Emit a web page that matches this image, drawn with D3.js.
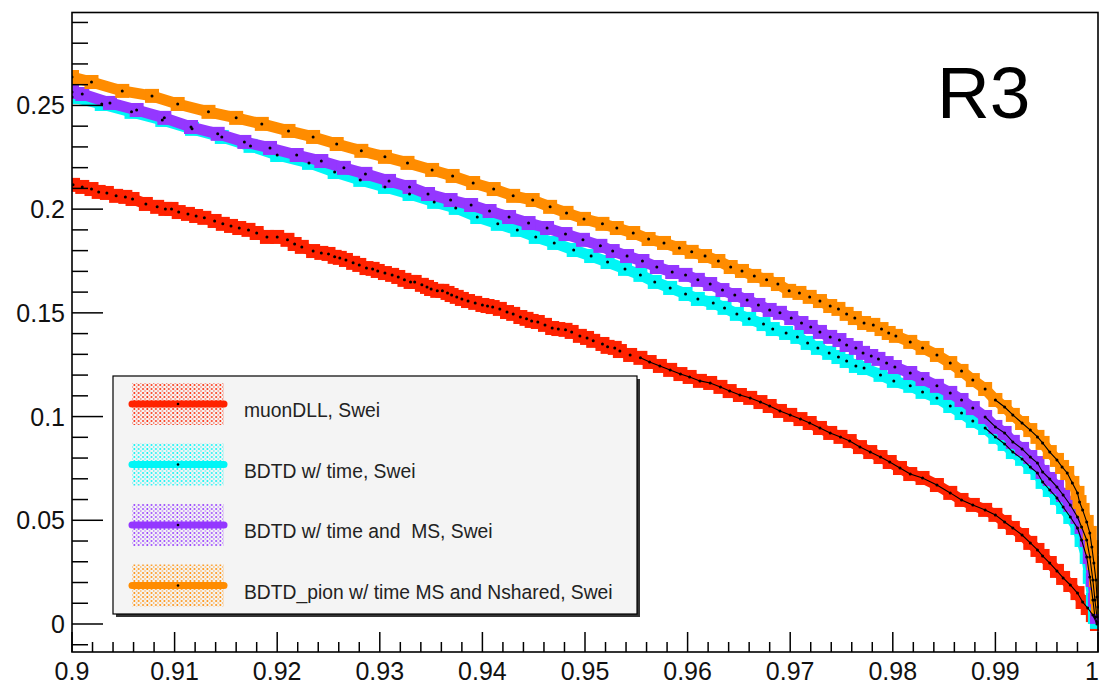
<!DOCTYPE html>
<html>
<head>
<meta charset="utf-8">
<script src="https://cdn.jsdelivr.net/npm/d3@7/dist/d3.min.js"></script>
<style>
  html, body { margin: 0; padding: 0; background: #ffffff; }
  svg { display: block; }
  text { font-family: "Liberation Sans", Arial, Helvetica, sans-serif; white-space: pre; }
</style>
</head>
<body>
<svg id="chart" width="1099" height="685"></svg>
<script>
// ---------------- DATA ----------------
const xTickLabels = ["0.9","0.91","0.92","0.93","0.94","0.95","0.96","0.97","0.98","0.99","1"];
const yTickLabels = ["0","0.05","0.1","0.15","0.2","0.25"];
const seriesNames = ["muonDLL, Swei", "BDTD w/ time, Swei", "BDTD w/ time and  MS, Swei", "BDTD_pion w/ time MS and Nshared, Swei"];
const annotation = "R3";

// muonDLL, Swei  [signal efficiency, background efficiency]
const muonDLL = [
 [0.9001,0.2117],[0.9010,0.2107],[0.9019,0.2097],[0.9026,0.2083],[0.9034,0.2078],[0.9043,0.2064],
 [0.9052,0.2059],[0.9059,0.2049],[0.9072,0.2025],[0.9083,0.2011],[0.9091,0.2001],[0.9097,0.2001],
 [0.9104,0.1986],[0.9113,0.1977],[0.9121,0.1967],[0.9129,0.1958],[0.9139,0.1943],[0.9147,0.1929],
 [0.9155,0.1919],[0.9163,0.1909],[0.9172,0.1900],[0.9180,0.1885],[0.9190,0.1866],[0.9200,0.1866],
 [0.9210,0.1852],[0.9217,0.1832],[0.9224,0.1818],[0.9235,0.1798],[0.9243,0.1789],[0.9250,0.1784],
 [0.9256,0.1770],[0.9261,0.1765],[0.9267,0.1755],[0.9274,0.1741],[0.9280,0.1731],[0.9287,0.1716],
 [0.9293,0.1712],[0.9298,0.1702],[0.9305,0.1692],[0.9312,0.1683],[0.9318,0.1673],[0.9324,0.1659],
 [0.9330,0.1649],[0.9334,0.1649],[0.9341,0.1635],[0.9346,0.1625],[0.9350,0.1615],[0.9356,0.1606],
 [0.9361,0.1606],[0.9366,0.1596],[0.9370,0.1586],[0.9375,0.1577],[0.9380,0.1567],[0.9386,0.1557],
 [0.9393,0.1548],[0.9400,0.1538],[0.9405,0.1533],[0.9410,0.1528],[0.9417,0.1519],[0.9424,0.1504],
 [0.9430,0.1495],[0.9437,0.1480],[0.9443,0.1471],[0.9448,0.1461],[0.9454,0.1456],[0.9461,0.1442],
 [0.9468,0.1427],[0.9474,0.1422],[0.9481,0.1418],[0.9487,0.1408],[0.9495,0.1389],[0.9502,0.1379],
 [0.9508,0.1365],[0.9517,0.1350],[0.9522,0.1336],[0.9529,0.1331],[0.9534,0.1316],[0.9544,0.1297],
 [0.9554,0.1283],[0.9563,0.1263],[0.9573,0.1244],[0.9583,0.1225],[0.9593,0.1205],[0.9602,0.1191],
 [0.9612,0.1172],[0.9622,0.1162],[0.9632,0.1143],[0.9641,0.1123],[0.9651,0.1104],[0.9661,0.1090],
 [0.9671,0.1070],[0.9680,0.1051],[0.9690,0.1027],[0.9700,0.1008],[0.9710,0.0988],[0.9719,0.0969],
 [0.9729,0.0945],[0.9739,0.0921],[0.9749,0.0902],[0.9758,0.0882],[0.9768,0.0853],[0.9778,0.0829],
 [0.9788,0.0805],[0.9797,0.0781],[0.9807,0.0752],[0.9817,0.0723],[0.9829,0.0704],[0.9843,0.0670],
 [0.9856,0.0632],[0.9867,0.0598],[0.9878,0.0574],[0.9890,0.0550],[0.9900,0.0526],[0.9909,0.0492],
 [0.9917,0.0463],[0.9926,0.0429],[0.9934,0.0391],[0.9941,0.0357],[0.9946,0.0328],[0.9953,0.0294],
 [0.9960,0.0256],[0.9966,0.0222],[0.9973,0.0188],[0.9980,0.0149],[0.9985,0.0106],[0.9990,0.0077],
 [0.9995,0.0043],[0.9999,0.0000]
];

// BDTD w/ time, Swei
const bdtdTime = [
 [0.9000,0.2541],[0.9029,0.2507],[0.9058,0.2469],[0.9088,0.2430],[0.9117,0.2387],[0.9146,0.2348],
 [0.9174,0.2305],[0.9200,0.2261],[0.9231,0.2223],[0.9256,0.2179],[0.9281,0.2141],[0.9305,0.2107],
 [0.9329,0.2073],[0.9353,0.2035],[0.9374,0.2006],[0.9395,0.1962],[0.9415,0.1929],[0.9434,0.1900],
 [0.9452,0.1866],[0.9470,0.1837],[0.9489,0.1803],[0.9506,0.1774],[0.9522,0.1745],[0.9539,0.1712],
 [0.9554,0.1683],[0.9568,0.1649],[0.9583,0.1620],[0.9598,0.1591],[0.9610,0.1567],[0.9625,0.1548],
 [0.9636,0.1524],[0.9648,0.1495],[0.9660,0.1471],[0.9674,0.1446],[0.9683,0.1422],[0.9696,0.1403],
 [0.9707,0.1384],[0.9717,0.1355],[0.9727,0.1331],[0.9738,0.1307],[0.9747,0.1287],[0.9755,0.1268],
 [0.9764,0.1244],[0.9772,0.1234],[0.9788,0.1201],[0.9801,0.1172],[0.9817,0.1148],[0.9829,0.1119],
 [0.9843,0.1090],[0.9856,0.1051],[0.9867,0.1017],[0.9878,0.0979],[0.9890,0.0945],[0.9900,0.0902],
 [0.9909,0.0868],[0.9917,0.0829],[0.9926,0.0796],[0.9934,0.0757],[0.9941,0.0728],[0.9946,0.0685],
 [0.9953,0.0646],[0.9960,0.0608],[0.9966,0.0564],[0.9973,0.0516],[0.9980,0.0463],[0.9984,0.0405],
 [0.9989,0.0323],[0.9992,0.0227],[0.9995,0.0116],[0.9997,0.0034],[0.9999,0.0010]
];

// BDTD w/ time and MS, Swei
const bdtdTimeMS = [
 [0.9000,0.2565],[0.9010,0.2555],[0.9037,0.2512],[0.9063,0.2478],[0.9090,0.2440],[0.9116,0.2396],
 [0.9142,0.2363],[0.9168,0.2324],[0.9193,0.2295],[0.9219,0.2261],[0.9243,0.2232],[0.9265,0.2199],
 [0.9286,0.2170],[0.9309,0.2136],[0.9329,0.2107],[0.9347,0.2073],[0.9369,0.2044],[0.9389,0.2020],
 [0.9407,0.1991],[0.9426,0.1962],[0.9445,0.1933],[0.9463,0.1909],[0.9481,0.1880],[0.9498,0.1852],
 [0.9515,0.1823],[0.9527,0.1798],[0.9541,0.1774],[0.9556,0.1750],[0.9570,0.1721],[0.9585,0.1697],
 [0.9598,0.1683],[0.9610,0.1659],[0.9622,0.1639],[0.9634,0.1610],[0.9646,0.1586],[0.9658,0.1562],
 [0.9669,0.1538],[0.9680,0.1514],[0.9690,0.1500],[0.9701,0.1475],[0.9711,0.1451],[0.9720,0.1432],
 [0.9729,0.1408],[0.9739,0.1384],[0.9748,0.1369],[0.9755,0.1345],[0.9764,0.1331],[0.9771,0.1307],
 [0.9779,0.1292],[0.9786,0.1278],[0.9794,0.1258],[0.9802,0.1239],[0.9817,0.1210],[0.9829,0.1181],
 [0.9843,0.1148],[0.9856,0.1114],[0.9867,0.1080],[0.9878,0.1041],[0.9890,0.0998],[0.9900,0.0950],
 [0.9909,0.0921],[0.9917,0.0878],[0.9926,0.0844],[0.9934,0.0805],[0.9941,0.0776],[0.9946,0.0733],
 [0.9953,0.0699],[0.9960,0.0661],[0.9966,0.0622],[0.9973,0.0574],[0.9980,0.0516],[0.9984,0.0468],
 [0.9989,0.0405],[0.9992,0.0323],[0.9995,0.0212],[0.9997,0.0116],[0.9999,0.0034]
];

// BDTD_pion w/ time MS and Nshared, Swei
const bdtdPion = [
 [0.9000,0.2637],[0.9019,0.2613],[0.9049,0.2570],[0.9078,0.2546],[0.9103,0.2507],[0.9133,0.2469],
 [0.9160,0.2440],[0.9185,0.2411],[0.9211,0.2377],[0.9235,0.2348],[0.9258,0.2314],[0.9282,0.2281],
 [0.9305,0.2252],[0.9327,0.2223],[0.9351,0.2189],[0.9371,0.2160],[0.9391,0.2126],[0.9411,0.2097],
 [0.9430,0.2064],[0.9449,0.2044],[0.9466,0.2011],[0.9482,0.1982],[0.9499,0.1953],[0.9517,0.1929],
 [0.9531,0.1909],[0.9547,0.1885],[0.9562,0.1856],[0.9577,0.1837],[0.9592,0.1813],[0.9604,0.1794],
 [0.9617,0.1774],[0.9630,0.1750],[0.9642,0.1721],[0.9653,0.1702],[0.9665,0.1678],[0.9677,0.1659],
 [0.9688,0.1639],[0.9699,0.1606],[0.9709,0.1596],[0.9719,0.1577],[0.9729,0.1557],[0.9739,0.1533],
 [0.9747,0.1519],[0.9755,0.1495],[0.9763,0.1475],[0.9772,0.1451],[0.9781,0.1442],[0.9789,0.1422],
 [0.9796,0.1403],[0.9803,0.1389],[0.9817,0.1360],[0.9829,0.1331],[0.9843,0.1297],[0.9856,0.1258],
 [0.9867,0.1220],[0.9878,0.1176],[0.9890,0.1133],[0.9900,0.1080],[0.9909,0.1046],[0.9917,0.1008],
 [0.9926,0.0969],[0.9934,0.0935],[0.9941,0.0902],[0.9946,0.0873],[0.9953,0.0829],[0.9960,0.0791],
 [0.9965,0.0757],[0.9970,0.0728],[0.9975,0.0680],[0.9980,0.0632],[0.9982,0.0588],[0.9985,0.0550],
 [0.9989,0.0492],[0.9992,0.0439],[0.9994,0.0371],[0.9996,0.0294],[0.9998,0.0212],[0.9999,0.0130],
 [1.0000,0.0082]
];

const seriesData = [muonDLL, bdtdTime, bdtdTimeMS, bdtdPion];
const seriesColors = ["#ff2200", "#00f6f6", "#9437ff", "#ff8c00"];
const denseFrom = [0.955, 0.989, 0.989, 0.9895];   // where the dot chain becomes a solid black line

// ---------------- LAYOUT ----------------
const svg = d3.select("#chart");
const L = 72, R = 1098, T = 12.5, B = 652;
const x = d3.scaleLinear().domain([0.9, 1.0]).range([L, R]);
const y = d3.scaleLinear().domain([-0.0135, 0.2948]).range([B, T]);

svg.append("rect").attr("width", 1099).attr("height", 685).attr("fill", "#fff");

// defs: clip + dotted patterns for legend
const defs = svg.append("defs");
defs.append("clipPath").attr("id", "plotclip")
  .append("rect").attr("x", L).attr("y", T).attr("width", R - L + 1).attr("height", B - T);
seriesColors.forEach((c, i) => {
  const p = defs.append("pattern").attr("id", "dots" + i)
    .attr("patternUnits", "userSpaceOnUse").attr("width", 4.3).attr("height", 4).attr("x", 0).attr("y", 0);
  p.append("circle").attr("cx", 1.1).attr("cy", 1.0).attr("r", 0.95).attr("fill", c);
  p.append("circle").attr("cx", 3.25).attr("cy", 3.0).attr("r", 0.75).attr("fill", c).attr("opacity", 0.8);
});

// ---------------- CURVES ----------------
const plot = svg.append("g").attr("clip-path", "url(#plotclip)");
const line = d3.line().x(d => x(d[0])).y(d => y(d[1]));

seriesData.forEach((data, i) => {
  const g = plot.append("g");
  g.append("path").datum(data).attr("d", line)
    .attr("fill", "none").attr("stroke", seriesColors[i])
    .attr("stroke-width", 11).attr("stroke-linejoin", "bevel");
  g.selectAll("rect.m").data(data).join("rect")
    .attr("x", d => x(d[0]) - 7).attr("y", d => y(d[1]) - 7)
    .attr("width", 14).attr("height", 14).attr("fill", seriesColors[i]);
});
seriesData.forEach((data, i) => {
  const g = plot.append("g");
  const dense = data.filter(d => d[0] >= denseFrom[i]);
  g.append("path").datum(dense).attr("d", line)
    .attr("fill", "none").attr("stroke", "#000").attr("stroke-width", 1.1);
  g.selectAll("circle").data(data).join("circle")
    .attr("cx", d => x(d[0])).attr("cy", d => y(d[1])).attr("r", 1.5).attr("fill", "#000");
});

// ---------------- AXES ----------------
const axes = svg.append("g").attr("stroke", "#000").attr("fill", "none");
axes.append("rect").attr("x", L).attr("y", T).attr("width", R - L).attr("height", B - T)
  .attr("stroke-width", 1.6);

const xMajor = d3.range(0, 11).map(k => 0.9 + k * 0.01);
const xMinor = d3.range(0, 51).map(k => 0.9 + k * 0.002).filter((v, k) => k % 5 !== 0);
axes.selectAll("line.xM").data(xMajor).join("line")
  .attr("x1", d => x(d)).attr("x2", d => x(d)).attr("y1", B).attr("y2", B - 20).attr("stroke-width", 1.5);
axes.selectAll("line.xm").data(xMinor).join("line").attr("class", "xm")
  .attr("x1", d => x(d)).attr("x2", d => x(d)).attr("y1", B).attr("y2", B - 10).attr("stroke-width", 1.5);

const yMajor = d3.range(0, 6).map(k => k * 0.05);
const yMinor = d3.range(-1, 30).map(k => k * 0.01).filter(v => Math.abs(Math.round(v * 100) % 5) !== 0);
axes.selectAll("line.yM").data(yMajor).join("line")
  .attr("x1", L).attr("x2", L + 31).attr("y1", d => y(d)).attr("y2", d => y(d)).attr("stroke-width", 1.5);
axes.selectAll("line.ym").data(yMinor).join("line").attr("class", "ym")
  .attr("x1", L).attr("x2", L + 16).attr("y1", d => y(d)).attr("y2", d => y(d)).attr("stroke-width", 1.5);

// tick labels
svg.append("g").selectAll("text").data(xMajor).join("text")
  .attr("x", (d, k) => k === xMajor.length - 1 ? 1099 : x(d)).attr("y", 680)
  .attr("text-anchor", (d, k) => k === xMajor.length - 1 ? "end" : "middle")
  .attr("font-size", 25).attr("fill", "#111").text((d, k) => xTickLabels[k]);
svg.append("g").selectAll("text").data(yMajor).join("text")
  .attr("x", 65).attr("y", d => y(d)).attr("dy", "0.36em").attr("text-anchor", "end")
  .attr("font-size", 25).attr("fill", "#111").text((d, k) => yTickLabels[k]);

// ---------------- LEGEND ----------------
const leg = svg.append("g");
leg.append("rect").attr("x", 116).attr("y", 379).attr("width", 524).attr("height", 238).attr("fill", "#333");
leg.append("rect").attr("x", 113).attr("y", 376).attr("width", 524).attr("height", 238)
  .attr("fill", "#f4f4f4").attr("stroke", "#000").attr("stroke-width", 1.2);
const rowY = [404, 464.5, 525, 585.5];
seriesNames.forEach((name, i) => {
  const cy = rowY[i];
  leg.append("rect").attr("x", 132).attr("y", cy - 21).attr("width", 92).attr("height", 42)
    .attr("fill", "url(#dots" + i + ")");
  leg.append("line").attr("x1", 132).attr("x2", 224).attr("y1", cy).attr("y2", cy)
    .attr("stroke", seriesColors[i]).attr("stroke-width", 7).attr("stroke-linecap", "round");
  leg.append("circle").attr("cx", 178).attr("cy", cy).attr("r", 1.3).attr("fill", "#000");
  leg.append("text").attr("x", 244).attr("y", cy + 13).attr("font-size", 19.3).attr("fill", "#222")
    .attr("xml:space", "preserve").text(name);
});

// ---------------- ANNOTATION ----------------
svg.append("text").attr("x", 937).attr("y", 118).attr("font-size", 73).attr("fill", "#000").text(annotation);
</script>
</body>
</html>
